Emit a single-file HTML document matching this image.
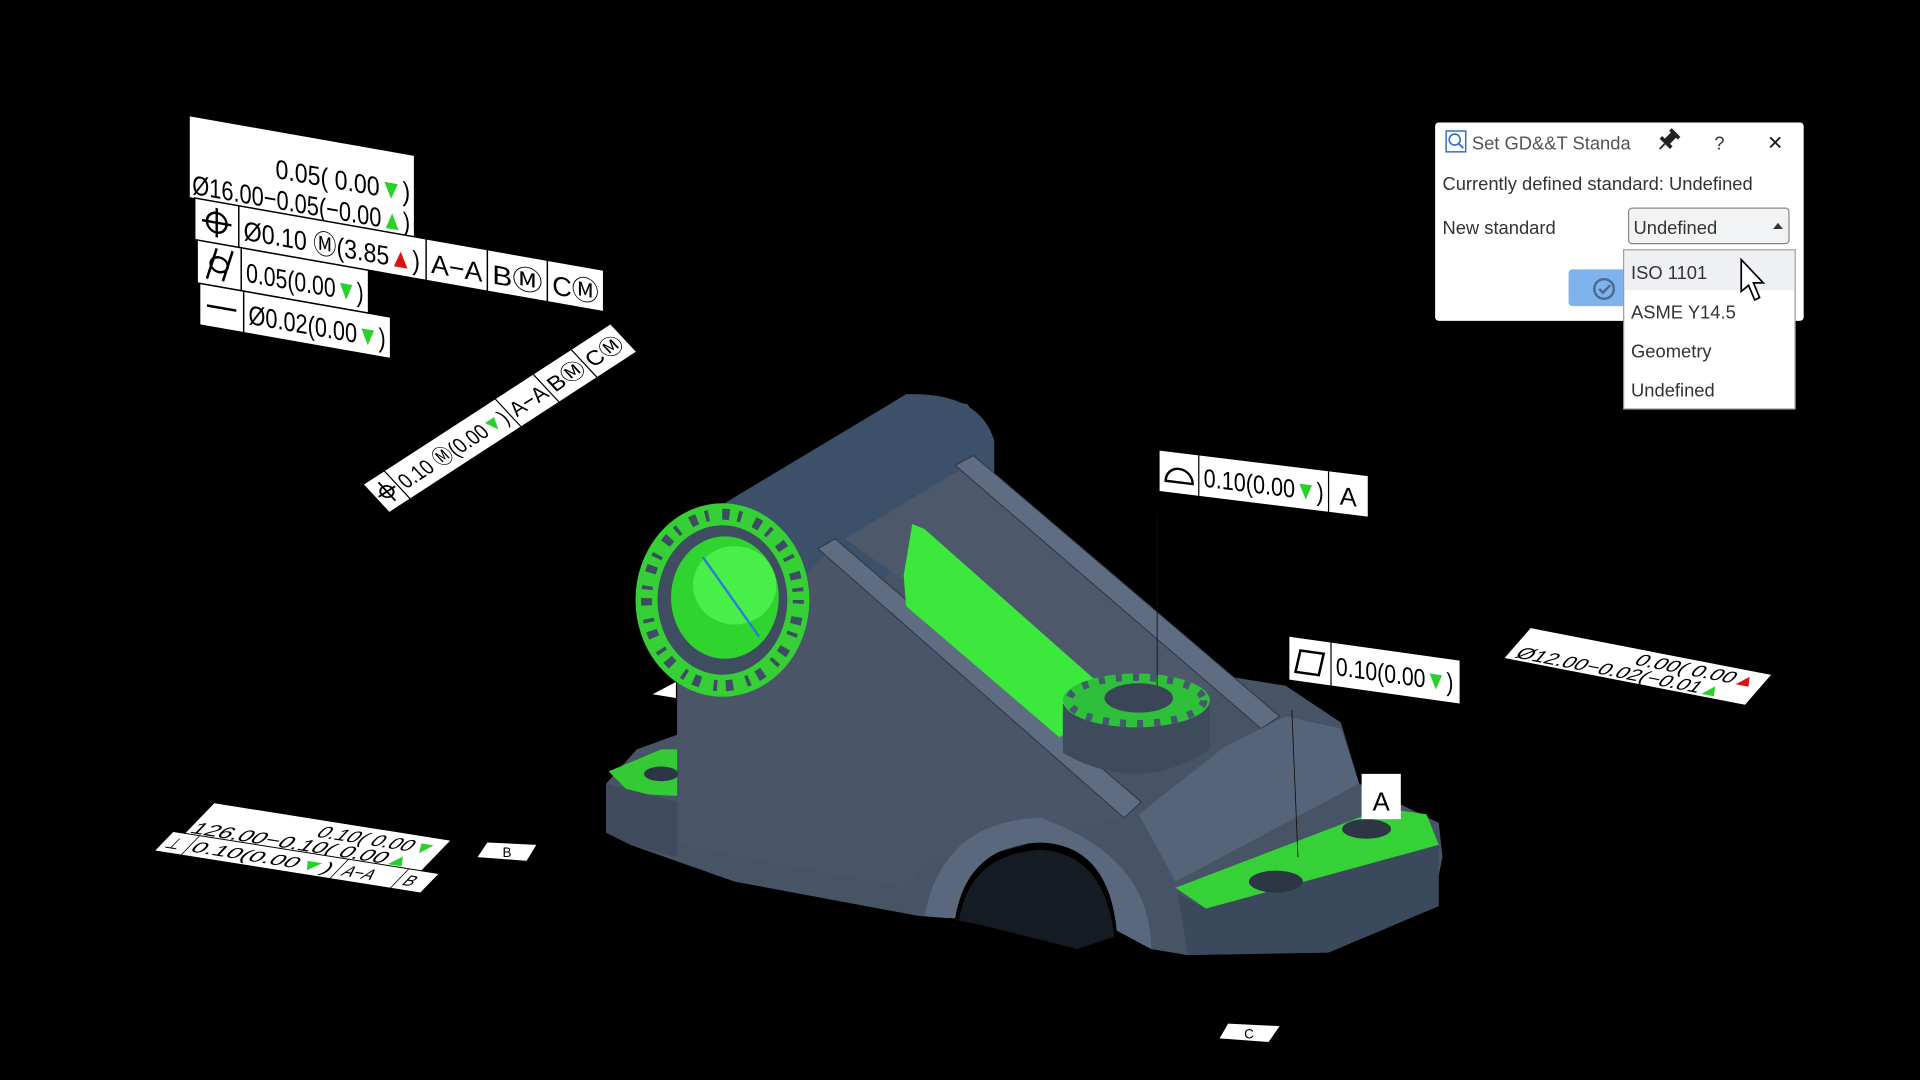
<!DOCTYPE html>
<html><head><meta charset="utf-8"><style>
html,body{margin:0;padding:0;background:#000;width:1920px;height:1080px;overflow:hidden}
svg{display:block}
.t{font-family:"Liberation Sans Narrow","Liberation Sans",sans-serif;fill:#000}
.u{font-family:"Liberation Sans","DejaVu Sans",sans-serif}
</style></head><body>
<svg width="1920" height="1080" viewBox="0 0 1568 882" preserveAspectRatio="none" xmlns="http://www.w3.org/2000/svg">
<rect width="1568" height="882" fill="#000"/>

<path d="M495,640 L520,612 L553,600 L553,520 L560,455 L600,415 L740,322 L790,330 L812,362 L800,380 L1000,552 L1050,560 L1095,590 L1110,640 L1150,660 L1175,672 L1178,700 L1170,740 L1080,775 L970,780 L940,775 L925,730 L900,696 L850,686 L800,700 L780,735 L775,750 L750,748 L600,720 L515,690 L495,680 Z" fill="#475466"/>
<path d="M560,430 L740,322 Q800,320 812,360 L812,400 L660,520 Z" fill="#3d5069"/>
<path d="M555,560 L560,470 L650,480 L680,445 L930,665 L760,700 L740,725 L555,690 Z" fill="#4a5568"/>
<path d="M690,440 L790,380 L1000,555 L930,610 Z" fill="#4d596b"/>
<path d="M668,448 L682,440 L932,655 L918,668 Z" fill="#5f6d82" stroke="#2c3542" stroke-width="0.8"/>
<path d="M780,380 L795,372 L1045,585 L1030,595 Z" fill="#5f6d82" stroke="#2c3542" stroke-width="0.8"/>
<path d="M745,428 L755,432 L920,578 L900,585 L865,602 L740,495 L738,470 Z" fill="#3de83d"/>
<path d="M930,665 L1000,610 L1050,585 L1095,595 L1110,640 L960,720 Z" fill="#56647a"/>
<path d="M868,575 L868,615 Q930,650 988,612 L988,572 Z" fill="#3e4b5d"/>
<ellipse cx="928" cy="572" rx="60" ry="22" fill="#2fbf3a"/>
<ellipse cx="928" cy="572" rx="55" ry="19" fill="none" stroke="#44586e" stroke-width="6" stroke-dasharray="5 9"/>
<ellipse cx="930" cy="570" rx="28" ry="12" fill="#3a4658"/>
<path d="M960,725 L1130,660 L1165,665 L1175,690 L985,742 Z" fill="#36d136"/>
<path d="M962,730 L985,742 L1175,690 L1175,740 L1085,778 L970,780 Z" fill="#3a4a5c"/>
<ellipse cx="1042" cy="720" rx="22" ry="9" fill="#2c3644"/>
<ellipse cx="1116" cy="677" rx="20" ry="8" fill="#2c3644"/>
<path d="M497,630 L540,612 L553,612 L553,650 L515,648 Z" fill="#35c935"/>
<ellipse cx="540" cy="632" rx="14" ry="6" fill="#2c3644"/>
<path d="M495,640 L553,655 L553,700 L515,690 L495,680 Z" fill="#3f4b5c"/>
<path d="M780,750 Q790,690 850,688 Q905,690 912,760 L940,775 Q940,700 850,668 Q770,670 755,748 Z" fill="#5a687d"/>
<path d="M783,752 Q792,697 850,694 Q902,697 910,765 L880,775 L800,755 Z" fill="#151b22"/>
<ellipse cx="590" cy="490" rx="64" ry="72" fill="#3f4d60"/>
<ellipse cx="590" cy="490" rx="62" ry="70" fill="none" stroke="#36cf36" stroke-width="18"/>
<ellipse cx="590" cy="490" rx="62" ry="70" fill="none" stroke="#3d4e62" stroke-width="9" stroke-dasharray="3 11 6 7"/>
<ellipse cx="592" cy="488" rx="44" ry="50" fill="#2fd42f"/>
<ellipse cx="600" cy="478" rx="34" ry="32" fill="#49ef49"/>
<line x1="574" y1="455" x2="620" y2="520" stroke="#2c7fd6" stroke-width="2"/>
<line x1="945" y1="420" x2="945" y2="560" stroke="#111" stroke-width="0.7"/>
<line x1="1055" y1="580" x2="1060" y2="700" stroke="#111" stroke-width="0.7"/>
<path d="M533,567 L552,557 L552,570 Z" fill="#fff"/>

<g transform="translate(155,95) skewY(10)">
 <rect x="0" y="0" width="183" height="66" fill="#fff"/>
 <text class="t" x="70" y="38" font-size="22" textLength="110" lengthAdjust="spacingAndGlyphs">0.05(  0.00<tspan fill="#2bd12b">▼</tspan>)</text>
 <text class="t" x="2" y="63" font-size="22" textLength="178" lengthAdjust="spacingAndGlyphs">Ø16.00−0.05(−0.00<tspan fill="#2bd12b">▲</tspan>)</text>
 <rect x="4" y="66" width="334" height="34" fill="#fff" stroke="#000" stroke-width="1.2"/>
 <line x1="40" y1="66" x2="40" y2="100" stroke="#000" stroke-width="1.2"/>
 <line x1="193" y1="66" x2="193" y2="100" stroke="#000" stroke-width="1.2"/>
 <line x1="243" y1="66" x2="243" y2="100" stroke="#000" stroke-width="1.2"/>
 <line x1="292" y1="66" x2="292" y2="100" stroke="#000" stroke-width="1.2"/>
 <circle cx="22" cy="83" r="8" fill="none" stroke="#000" stroke-width="2"/>
 <line x1="10" y1="83" x2="34" y2="83" stroke="#000" stroke-width="2"/>
 <line x1="22" y1="71" x2="22" y2="95" stroke="#000" stroke-width="2"/>
 <text class="t" x="44" y="93" font-size="22" textLength="144" lengthAdjust="spacingAndGlyphs">Ø0.10 Ⓜ(3.85<tspan fill="#d11">▲</tspan>)</text>
 <text class="t" x="197" y="93" font-size="22" textLength="42" lengthAdjust="spacingAndGlyphs">A−A</text>
 <text class="t" x="247" y="93" font-size="22" textLength="41" lengthAdjust="spacingAndGlyphs">BⓂ</text>
 <text class="t" x="296" y="93" font-size="22" textLength="38" lengthAdjust="spacingAndGlyphs">CⓂ</text>
 <rect x="6" y="100" width="140" height="35" fill="#fff" stroke="#000" stroke-width="1.2"/>
 <line x1="42" y1="100" x2="42" y2="135" stroke="#000" stroke-width="1.2"/>
 <ellipse cx="24" cy="117" rx="7" ry="6" fill="none" stroke="#000" stroke-width="2"/>
 <line x1="14" y1="130" x2="22" y2="104" stroke="#000" stroke-width="2"/>
 <line x1="27" y1="130" x2="35" y2="104" stroke="#000" stroke-width="2"/>
 <text class="t" x="46" y="127" font-size="22" textLength="96" lengthAdjust="spacingAndGlyphs">0.05(0.00<tspan fill="#2bd12b">▼</tspan>)</text>
 <rect x="8" y="135" width="156" height="34" fill="#fff" stroke="#000" stroke-width="1.2"/>
 <line x1="44" y1="135" x2="44" y2="169" stroke="#000" stroke-width="1.2"/>
 <line x1="14" y1="152" x2="38" y2="152" stroke="#000" stroke-width="2"/>
 <text class="t" x="48" y="161" font-size="22" textLength="112" lengthAdjust="spacingAndGlyphs">Ø0.02(0.00<tspan fill="#2bd12b">▼</tspan>)</text>
</g>

<g transform="translate(318,418) rotate(-33) skewX(10)">
 <rect x="0" y="-30" width="240" height="30" fill="#fff"/>
 <g stroke="#000" stroke-width="1"><line x1="20" y1="-30" x2="20" y2="0"/><line x1="128" y1="-30" x2="128" y2="0"/><line x1="165" y1="-30" x2="165" y2="0"/><line x1="202" y1="-30" x2="202" y2="0"/></g>
 <circle cx="10" cy="-15" r="5" fill="none" stroke="#000" stroke-width="1.5"/>
 <line x1="2" y1="-15" x2="18" y2="-15" stroke="#000" stroke-width="1.5"/>
 <line x1="10" y1="-25" x2="10" y2="-5" stroke="#000" stroke-width="1.5"/>
 <text class="t" x="23" y="-8" font-size="18" textLength="102" lengthAdjust="spacingAndGlyphs">0.10 Ⓜ(0.00<tspan fill="#2bd12b">▼</tspan>)</text>
 <text class="t" x="131" y="-8" font-size="18" textLength="32" lengthAdjust="spacingAndGlyphs">A−A</text>
 <text class="t" x="168" y="-8" font-size="18" textLength="32" lengthAdjust="spacingAndGlyphs">BⓂ</text>
 <text class="t" x="205" y="-8" font-size="18" textLength="32" lengthAdjust="spacingAndGlyphs">CⓂ</text>
</g>

<g transform="translate(947,368) skewY(7)">
 <rect x="0" y="0" width="170" height="33" fill="#fff"/>
 <g stroke="#000" stroke-width="1"><line x1="32" y1="0" x2="32" y2="33"/><line x1="138" y1="0" x2="138" y2="33"/></g>
 <path d="M5,24 A11,11 0 0 1 27,24 Z" fill="none" stroke="#000" stroke-width="2"/>
 <text class="t" x="36" y="25" font-size="21" textLength="98" lengthAdjust="spacingAndGlyphs">0.10(0.00<tspan fill="#2bd12b">▼</tspan>)</text>
 <text class="t" x="147" y="26" font-size="21">A</text>
</g>
<g transform="translate(1053,520) skewY(8)">
 <rect x="0" y="0" width="139" height="35" fill="#fff"/>
 <line x1="34" y1="0" x2="34" y2="35" stroke="#000" stroke-width="1"/>
 <path d="M9,10 L28,10 L24,28 L5,28 Z" fill="none" stroke="#000" stroke-width="2"/>
 <text class="t" x="38" y="26" font-size="21" textLength="96" lengthAdjust="spacingAndGlyphs">0.10(0.00<tspan fill="#2bd12b">▼</tspan>)</text>
</g>
<rect x="1112" y="632" width="32" height="37" fill="#fff"/>
<text class="t" x="1128" y="662" font-size="21" text-anchor="middle">A</text>

<g transform="translate(1250,513) rotate(11) skewX(-30)">
 <rect x="0" y="0" width="200" height="28" fill="#fff"/>
 <text class="t" x="95" y="13" font-size="14" textLength="100" lengthAdjust="spacingAndGlyphs">0.00(  0.00<tspan fill="#d11">▲</tspan></text>
 <text class="t" x="6" y="26" font-size="14" textLength="170" lengthAdjust="spacingAndGlyphs">Ø12.00−0.02(−0.01<tspan fill="#2bd12b">▲</tspan></text>
</g>

<g transform="translate(175,656) rotate(9) skewX(-35)">
 <rect x="0" y="0" width="195" height="28" fill="#fff"/>
 <text class="t" x="95" y="14" font-size="14" textLength="95" lengthAdjust="spacingAndGlyphs">0.10(  0.00<tspan fill="#2bd12b">▼</tspan></text>
 <text class="t" x="2" y="27" font-size="14" textLength="180" lengthAdjust="spacingAndGlyphs">126.00−0.10(  0.00<tspan fill="#2bd12b">▲</tspan></text>
 <rect x="-10" y="28" width="220" height="18" fill="#fff" stroke="#000" stroke-width="0.8"/>
 <g stroke="#000" stroke-width="0.8"><line x1="12" y1="28" x2="12" y2="46"/><line x1="135" y1="28" x2="135" y2="46"/><line x1="185" y1="28" x2="185" y2="46"/></g>
 <text class="t" x="-6" y="42" font-size="13">⊥</text>
 <text class="t" x="15" y="42" font-size="13" textLength="115" lengthAdjust="spacingAndGlyphs">0.10(0.00<tspan fill="#2bd12b">▼</tspan>)</text>
 <text class="t" x="140" y="42" font-size="13">A−A</text>
 <text class="t" x="190" y="42" font-size="13">B</text>
</g>
<path d="M398,688 L438,690 L430,703 L390,700 Z" fill="#fff"/>
<text class="t" x="414" y="700" font-size="11" text-anchor="middle">B</text>
<path d="M1003,836 L1045,838 L1036,851 L996,848 Z" fill="#fff"/>
<text class="t" x="1020" y="848" font-size="11" text-anchor="middle">C</text>

<rect x="1172" y="100" width="301" height="162" rx="3" fill="#fff"/>
<rect x="1181" y="107" width="16" height="17" fill="none" stroke="#2a6fd0" stroke-width="1.2"/>
<circle cx="1188" cy="114" r="4.5" fill="none" stroke="#2a6fd0" stroke-width="1.3"/>
<line x1="1191" y1="117" x2="1195" y2="121" stroke="#2a6fd0" stroke-width="1.5"/>
<text class="u" x="1202" y="122" font-size="15" fill="#555">Set GD&amp;&amp;T Standa</text>
<g transform="translate(1361,116) rotate(45)">
 <rect x="-3" y="-9" width="6" height="9" fill="#222"/>
 <rect x="-6" y="-1" width="12" height="3" fill="#222"/>
 <rect x="-5" y="-11" width="10" height="3" fill="#222"/>
 <line x1="0" y1="2" x2="0" y2="8" stroke="#222" stroke-width="1.5"/>
</g>
<text class="u" x="1400" y="122" font-size="15" fill="#333">?</text>
<text class="u" x="1443" y="122" font-size="16" fill="#222">✕</text>
<text class="u" x="1178" y="155" font-size="15" fill="#333">Currently defined standard: Undefined</text>
<text class="u" x="1178" y="191" font-size="15" fill="#333">New standard</text>
<rect x="1330" y="170" width="131" height="29" rx="3" fill="#f2f3f5" stroke="#888" stroke-width="1"/>
<text class="u" x="1334" y="191" font-size="15" fill="#333">Undefined</text>
<path d="M1448,187 L1456,187 L1452,182 Z" fill="#333"/>
<rect x="1281" y="220" width="50" height="30" rx="3" fill="#7fb3ee"/>
<circle cx="1310" cy="236" r="8" fill="none" stroke="#4a6a8f" stroke-width="2"/>
<path d="M1306,236 L1309,239 L1315,233" fill="none" stroke="#4a6a8f" stroke-width="2"/>
<rect x="1326" y="204" width="140" height="130" fill="#fff" stroke="#999" stroke-width="1"/>
<rect x="1327" y="205" width="138" height="32" fill="#eef0f3"/>
<text class="u" x="1332" y="228" font-size="15" fill="#333">ISO 1101</text>
<text class="u" x="1332" y="260" font-size="15" fill="#333">ASME Y14.5</text>
<text class="u" x="1332" y="292" font-size="15" fill="#333">Geometry</text>
<text class="u" x="1332" y="324" font-size="15" fill="#333">Undefined</text>
<path d="M1422,212 L1422,238 L1428,233 L1433,245 L1437,243 L1432,231 L1440,231 Z" fill="#fff" stroke="#000" stroke-width="1.4"/>
</svg>
</body></html>
